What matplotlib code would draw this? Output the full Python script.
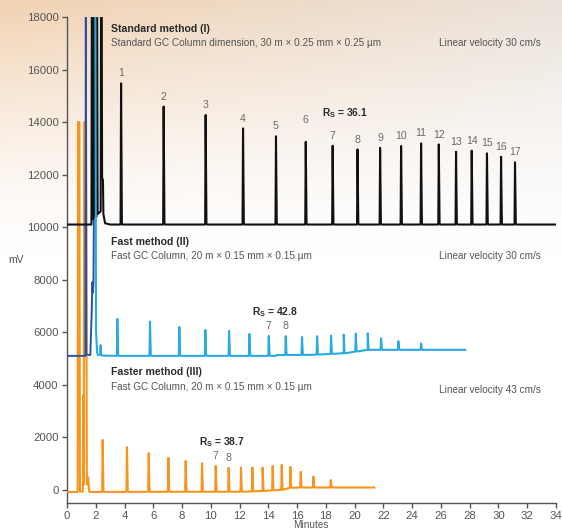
import numpy as np
import matplotlib
matplotlib.use("Agg")
import matplotlib.pyplot as plt

# ---------------- data ----------------
peak_numbers = [str(i) for i in range(1, 18)]

# Standard method (I) - black
std_rt = [3.76, 6.72, 9.64, 12.24, 14.53, 16.60, 18.47, 20.20, 21.77, 23.23,
          24.62, 25.85, 27.05, 28.14, 29.20, 30.18, 31.15]
std_h = [15475, 14590, 14270, 13760, 13460, 13250, 13100, 12960, 13020, 13090,
         13190, 13150, 12870, 12910, 12810, 12680, 12470]
std_base_t = [0.0, 34.05]
std_base_v = [10100, 10100]
std_solv_t = [0.0, 1.70, 1.73, 1.77, 1.80, 1.86, 1.90, 1.94, 2.05, 2.09, 2.13,
              2.34, 2.37, 2.41, 2.44, 2.50, 2.53, 2.65, 3.0]
std_solv_v = [10100, 10100, 19000, 19000, 10300, 19000, 19000, 10400, 10400,
              19000, 10500, 10600, 19000, 19000, 11870, 11800, 10500, 10150,
              10100]

# Fast method (II) - light blue (+ dark blue start)
fast_rt = [3.50, 5.77, 7.81, 9.62, 11.27, 12.68, 14.03, 15.21, 16.34, 17.39,
           18.36, 19.24, 20.08, 20.91, 21.84, 23.04, 24.62]
fast_h = [6507, 6405, 6200, 6090, 6050, 5935, 5860, 5850, 5820, 5850,
          5870, 5910, 5950, 5960, 5770, 5660, 5570]
fast_base_t = [0.0, 14.5, 14.55, 17.0, 19.24, 20.91, 27.68]
fast_base_v = [5100, 5100, 5130, 5140, 5200, 5330, 5330]
fast_solv_t = [1.97, 2.02, 2.10, 2.16, 2.30, 2.34, 2.38, 2.50]
fast_solv_v = [19000, 6000, 5200, 5130, 5130, 5510, 5130, 5110]
navy_t = [0.0, 1.28, 1.31, 1.35, 1.62, 1.72, 1.76, 1.80, 1.84, 1.97]
navy_v = [5100, 5100, 19000, 5150, 5130, 6800, 7900, 7500, 7900, 19000]

# Faster method (III) - orange
faster_rt = [2.48, 4.17, 5.68, 7.05, 8.25, 9.39, 10.34, 11.24, 12.10, 12.89,
             13.60, 14.30, 14.93, 15.53, 16.25, 17.13, 18.34]
faster_h = [1900, 1625, 1395, 1217, 1100, 1015, 910, 837, 850, 850,
            850, 910, 950, 875, 685, 505, 370]
faster_base_t = [0.0, 12.3, 13.6, 14.9, 15.6, 21.37]
faster_base_v = [-80, -70, -40, 0, 90, 90]
faster_solv_t = [0.0, 0.74, 0.77, 0.86, 0.90, 1.10, 1.13, 1.16, 1.20, 1.32,
                 1.38, 1.45, 1.47, 1.50, 1.55, 1.70]
faster_solv_v = [-80, -80, 14000, 14000, -60, -60, 3600, 200, 14000, 14000,
                 200, 480, 480, 200, -80, -80]

labeled_fast = [6, 7]      # indices of peaks 7 and 8
labeled_faster = [6, 7]

rs_texts = ["36.1", "42.8", "38.7"]

# ---------------- helpers ----------------
def build_trace(solv_t, solv_v, base_t, base_v, rt, h, w=0.035):
    t0 = solv_t[-1]
    pts = [(t, v) for t, v in zip(solv_t, solv_v)]
    bt = [t for t in base_t if t > t0]
    for t in bt:
        pts.append((t, np.interp(t, base_t, base_v)))
    for p, top in zip(rt, h):
        b = np.interp(p, base_t, base_v)
        pts += [(p - w, b), (p, top), (p + w * 1.6, b + 40), (p + w * 3, b)]
    pts.sort(key=lambda q: q[0])
    x = np.array([q[0] for q in pts])
    y = np.array([q[1] for q in pts])
    return x, y

# ---------------- figure ----------------
W, H = 562, 531
fig = plt.figure(figsize=(W / 100, H / 100), dpi=100)

# background gradient
bg = fig.add_axes([0, 0, 1, 1], zorder=-10)
yy, xx = np.mgrid[0:H, 0:W]
fade = np.clip(1 - yy / 255.0, 0, 1) ** 1.4
left_c = np.array([0xF2, 0xD2, 0xB2]) / 255.0
right_c = np.array([0xEA, 0xE2, 0xDA]) / 255.0
mix = (xx / W)[..., None]
col = left_c * (1 - mix) + right_c * mix
img = 1 - (1 - col) * fade[..., None]
bg.imshow(img, aspect="auto", extent=[0, 1, 0, 1])
bg.axis("off")

FONT = ["Liberation Sans", "DejaVu Sans"]
plt.rcParams["font.family"] = FONT
plt.rcParams["mathtext.fontset"] = "custom"
plt.rcParams["mathtext.rm"] = "Liberation Sans"
plt.rcParams["mathtext.bf"] = "Liberation Sans:bold"

ax = fig.add_axes([67 / W, 1 - 503 / H, (556 - 67) / W, (503 - 17) / H])
ax.set_facecolor("none")
ax.set_xlim(0, 34)
ax.set_ylim(-500, 18000)

BLACK = "#111111"
LBLUE = "#29ABE2"
NAVY = "#2F4FA2"
ORANGE = "#F7941D"

xs, ys = build_trace(faster_solv_t, faster_solv_v, faster_base_t, faster_base_v,
                     faster_rt, faster_h)
ax.plot(xs, ys, color=ORANGE, lw=1.5, zorder=3)

ax.plot(navy_t, navy_v, color=NAVY, lw=1.4, zorder=4)
xs, ys = build_trace(fast_solv_t, fast_solv_v, fast_base_t, fast_base_v,
                     fast_rt, fast_h)
ax.plot(xs, ys, color=LBLUE, lw=1.5, zorder=6)

xs, ys = build_trace(std_solv_t, std_solv_v, std_base_t, std_base_v,
                     std_rt, std_h)
ax.plot(xs, ys, color=BLACK, lw=1.5, zorder=5)

LABC = "#6a6a6a"
LABFS = 7.6
for lab, p, top in zip(peak_numbers, std_rt, std_h):
    dy = 12 if lab == "6" else 3.5
    ax.annotate(lab, (p, top), xytext=(0, dy), textcoords="offset points",
                ha="center", va="bottom", fontsize=LABFS, color=LABC)
for i in labeled_fast:
    ax.annotate(peak_numbers[i], (fast_rt[i], fast_h[i]), xytext=(0, 3.5),
                textcoords="offset points", ha="center", va="bottom",
                fontsize=LABFS, color=LABC)
for i in labeled_faster:
    ax.annotate(peak_numbers[i], (faster_rt[i], faster_h[i]), xytext=(0, 3.5),
                textcoords="offset points", ha="center", va="bottom",
                fontsize=LABFS, color=LABC)

# Rs labels
TITLEC = "#2b2b2b"
DESCC = "#555555"
for (x, y), r in zip([(17.71, 14345), (12.84, 6760), (9.20, 1815)], rs_texts):
    ax.text(x, y, r"$\mathbf{R_S}$ = " + r, fontsize=7.4, fontweight="bold",
            color=TITLEC, ha="left", va="center")

# method titles and descriptions
titles = ["Standard method (I)", "Fast method (II)", "Faster method (III)"]
descs = ["Standard GC Column dimension, 30 m \u00d7 0.25 mm \u00d7 0.25 \u00b5m",
         "Fast GC Column, 20 m \u00d7 0.15 mm \u00d7 0.15 \u00b5m",
         "Fast GC Column, 20 m \u00d7 0.15 mm \u00d7 0.15 \u00b5m"]
vels = ["Linear velocity 30 cm/s", "Linear velocity 30 cm/s",
        "Linear velocity 43 cm/s"]
title_y = [17540, 9450, 4480]
desc_y = [17020, 8920, 3930]
vel_y = [17020, 8920, 3805]
for t, d, v, ty, dy_, vy in zip(titles, descs, vels, title_y, desc_y, vel_y):
    ax.text(3.06, ty, t, fontsize=7.6, fontweight="bold", color=TITLEC,
            ha="left", va="center")
    ax.text(3.06, dy_, d, fontsize=7.2, color=DESCC, ha="left", va="center")
    ax.text(32.94, vy, v, fontsize=7.2, color=DESCC, ha="right", va="center")

# axes styling
for s in ["top", "right"]:
    ax.spines[s].set_visible(False)
for s in ["left", "bottom"]:
    ax.spines[s].set_color("#555555")
    ax.spines[s].set_linewidth(1.0)
ax.set_xticks(np.arange(0, 35, 2))
ax.set_yticks(np.arange(0, 18001, 2000))
ax.tick_params(axis="both", direction="out", length=3.5, width=1.0,
               color="#555555", labelcolor="#555555", labelsize=8.2, pad=2.5)

fig.text(16 / W, 1 - 260 / H, "mV", fontsize=7.4, color=DESCC,
         ha="center", va="center")
fig.text(311 / W, 1 - 525 / H, "Minutes", fontsize=7.2, color=DESCC,
         ha="center", va="center")

fig.savefig("out.png", dpi=100)
